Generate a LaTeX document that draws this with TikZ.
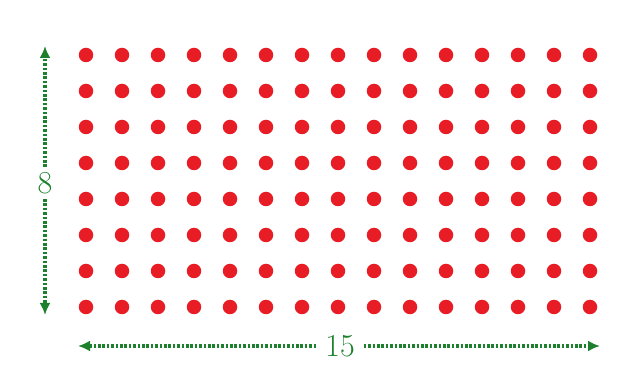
\documentclass[tikz,border=0pt]{standalone}
\usetikzlibrary{arrows.meta}
\definecolor{dotred}{RGB}{232,28,36}
\definecolor{dimgreen}{RGB}{28,128,44}
\tikzset{
  dotnode/.style={circle,fill=dotred,inner sep=0pt,minimum size=14.5pt},
  dimline/.style={draw=dimgreen,line width=3.2pt,dash pattern=on 2.6pt off 1.8pt,-{Latex[length=12pt,width=11pt]}},
  dimlabel/.style={text=dimgreen,font=\fontsize{32}{36}\selectfont,inner xsep=9pt,inner ysep=5pt}
}
\begin{document}
\begin{tikzpicture}[x=1pt,y=-1pt]
\useasboundingbox (0,0) rectangle (633,382);
\foreach \i in {0,...,14}{
  \foreach \j in {0,...,7}{
    \node[dotnode] (d\i-\j) at ({86+36*\i},{55+36*\j}) {};
  }
}
\coordinate (vtop) at (45,46);
\coordinate (vbot) at (45,315);
\node[dimlabel] (eight) at (45,183) {8};
\draw[dimline] (eight.north) -- (vtop);
\draw[dimline] (eight.south) -- (vbot);
\coordinate (hl) at (78,346);
\coordinate (hr) at (600,346);
\node[dimlabel] (fifteen) at (340,346) {15};
\draw[dimline] (fifteen.west) -- (hl);
\draw[dimline] (fifteen.east) -- (hr);
\end{tikzpicture}
\end{document}
